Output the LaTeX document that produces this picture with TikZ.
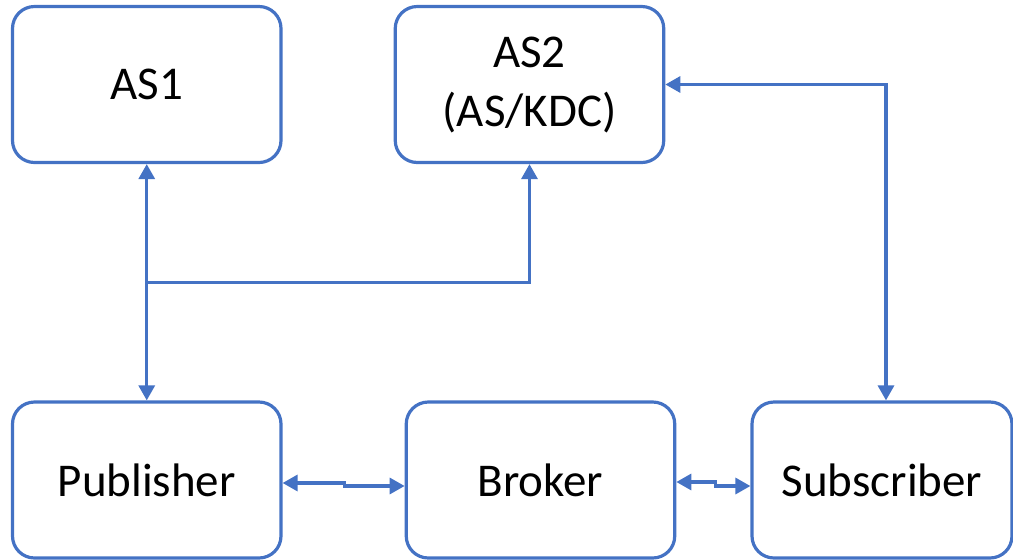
\documentclass[tikz,border=0pt]{standalone}
\usepackage{fontspec}
\setmainfont{Carlito}
\usepackage{xcolor}
\usepackage{tikz}
\usetikzlibrary{arrows.meta,positioning,calc}
\definecolor{officeblue}{HTML}{4472C4}
\tikzset{
  entity/.style={draw=officeblue, line width=1.6pt, rounded corners=11pt, align=center, fill=white, inner sep=0pt, minimum width=134.25pt, minimum height=78pt, font=\fontsize{23.5}{29.5}\selectfont},
  link/.style={draw=officeblue, line width=1.6pt, {Triangle[length=7.5pt,width=8pt]}-{Triangle[length=7.5pt,width=8pt]}},
  uplink/.style={draw=officeblue, line width=1.6pt, -{Triangle[length=7.5pt,width=8pt]}}
}

\begin{document}
\begin{tikzpicture}[x=0.5pt,y=-0.5pt]
  \useasboundingbox (0,0) rectangle (1013,559);

  \node[entity] (as1) at (146.75,84.5) {AS1};
  \node[entity] (as2) at (529.5,84.5) {AS2\\(AS/KDC)};
  \node[entity] (pub) at (146.75,480) {Publisher};
  \node[entity] (broker) at (540.5,480) {Broker};
  \node[entity, minimum width=130pt] (sub) at (882,480) {Subscriber};

  \coordinate (split) at ($(as1.south)!0.5!(pub.north)$);

  \draw[link] (as1.south) -- (pub.north);
  \draw[uplink] (split) -| (as2.south);
  \draw[link] (as2.east) -| ([xshift=2pt]sub.north);
  \draw[link] ([yshift=-1.5pt]pub.east) -- ++(62,0) |- ([yshift=-3pt]broker.west);
  \draw[link] ([yshift=-1pt]broker.east) -- ++(39,0) |- ([yshift=-3pt]sub.west);
\end{tikzpicture}
\end{document}
